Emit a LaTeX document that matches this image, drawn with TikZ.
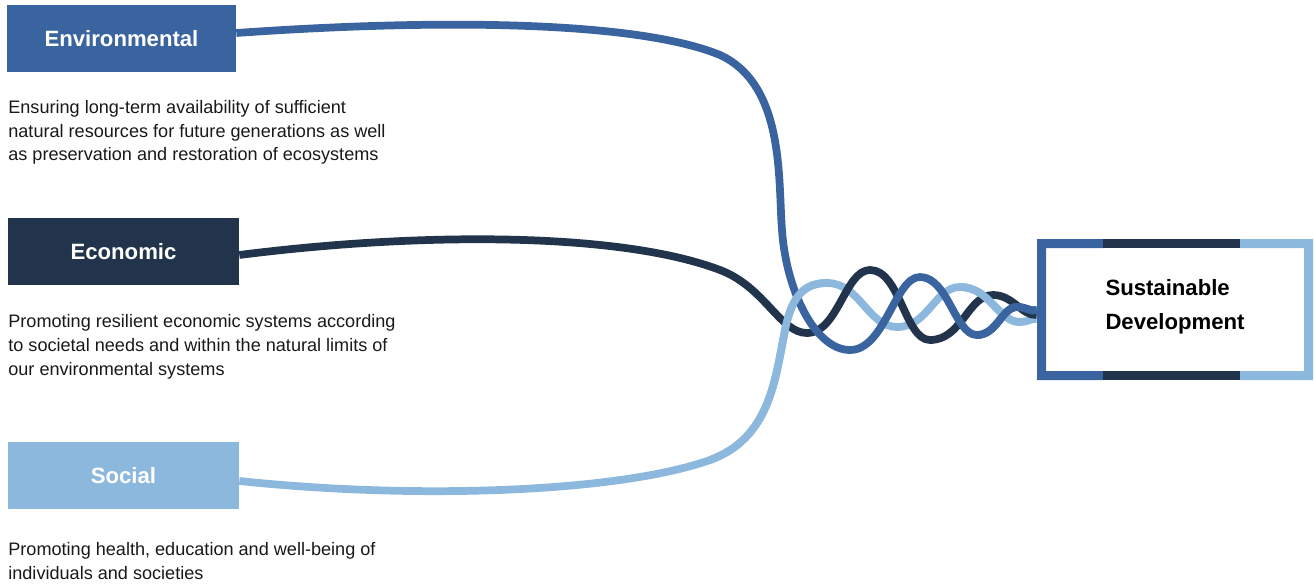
\documentclass[tikz,border=0pt]{standalone}
\usepackage{fontspec}
\setmainfont{Liberation Sans}
\usetikzlibrary{positioning}

\definecolor{envblue}{HTML}{3A64A0}
\definecolor{ecoblue}{HTML}{22344B}
\definecolor{socblue}{HTML}{8DB8DE}

\tikzset{
  pillarbox/.style={rectangle,inner sep=0pt,minimum height=1.34cm,text=white,
    font=\fontsize{12.6}{15}\selectfont\bfseries},
  desctext/.style={anchor=base west,inner sep=0pt,align=left,text=black!90,
    font=\fontsize{10.3}{13.6}\selectfont},
  goalbox/.style={rectangle,inner sep=0pt,minimum width=5.52cm,minimum height=2.82cm,
    align=left,font=\fontsize{12.6}{19.3}\selectfont\bfseries},
  strand/.style={line width=4.4pt},
}

\begin{document}
\begin{tikzpicture}[x=0.02cm,y=-0.02cm]
\useasboundingbox (0,0) rectangle (1314,584);

% pillars
\node[pillarbox,fill=envblue,minimum width=4.58cm] (env) at (121.5,38.5) {Environmental};
\node[pillarbox,fill=ecoblue,minimum width=4.62cm] (eco) at (123.5,251.5) {Economic};
\node[pillarbox,fill=socblue,minimum width=4.62cm] (soc) at (123.5,475.5) {Social};

% descriptions (anchored at the last line)
\node[desctext] (envtxt) at (8,161) {Ensuring long-term availability of sufficient\\
  natural resources for future generations as well\\
  as preservation and restoration of ecosystems};
\node[desctext] (ecotxt) at (8,375) {Promoting resilient economic systems according\\
  to societal needs and within the natural limits of\\
  our environmental systems};
\node[desctext] (soctxt) at (8,579) {Promoting health, education and well-being of\\
  individuals and societies};

% goal
\node[goalbox] (sd) at (1175,307) {Sustainable\\Development};

% turning points of the braid
\coordinate (e1) at (850,350);
\coordinate (e2) at (920,277);
\coordinate (e3) at (977,335);
\coordinate (e4) at (1017,307);
\coordinate (d1) at (807,333);
\coordinate (d2) at (870,270);
\coordinate (d3) at (930,340);
\coordinate (d4) at (993,295);
\coordinate (l1) at (827,283);
\coordinate (l2) at (897,327);
\coordinate (l3) at (960,287);
\coordinate (l4) at (1020,322);

% strands
\draw[strand,socblue] ([yshift=-0.11cm]soc.east) .. controls (420,500) and (620,492) .. (710,460)
  .. controls (770,438) and (775,380) .. (785,330) .. controls (792,295) and (805,283) .. (l1)
  .. controls (860,283) and (868,327) .. (l2) .. controls (928,327) and (935,287) .. (l3)
  .. controls (990,287) and (998,322) .. (l4) .. controls (1028,322) and (1032,318) .. ([yshift=-0.24cm]sd.west);
\draw[strand,ecoblue] ([yshift=-0.07cm]eco.east) .. controls (420,232) and (620,232) .. (720,270)
  .. controls (765,287) and (780,333) .. (d1) .. controls (838,333) and (845,270) .. (d2)
  .. controls (900,270) and (905,340) .. (d3) .. controls (962,340) and (968,295) .. (d4)
  .. controls (1013,295) and (1022,316) .. ([yshift=-0.16cm]sd.west);
\draw[strand,envblue] ([yshift=0.11cm]env.east) .. controls (450,18) and (640,22) .. (720,55)
  .. controls (785,85) and (778,180) .. (782,230) .. controls (786,290) and (815,350) .. (e1)
  .. controls (885,350) and (895,277) .. (e2) .. controls (948,277) and (955,335) .. (e3)
  .. controls (997,335) and (1002,307) .. (e4) .. controls (1027,307) and (1030,312) .. ([yshift=-0.06cm]sd.west);

% over-crossings
\draw[strand,socblue] (710,460) .. controls (770,438) and (775,380) .. (785,330)
  .. controls (792,295) and (805,283) .. (l1);
\draw[strand,socblue] (l3) .. controls (990,287) and (998,322) .. (l4);
\draw[strand,envblue] (e3) .. controls (997,335) and (1002,307) .. (e4)
  .. controls (1027,307) and (1030,312) .. ([yshift=-0.06cm]sd.west);

% frame of the goal
\fill[envblue] (1037,239) -- (1103,239) -- (1103,248) -- (1046,248) -- (1046,371)
  -- (1103,371) -- (1103,380) -- (1037,380) -- cycle;
\fill[ecoblue] (1103,239) rectangle (1240,248);
\fill[ecoblue] (1103,371) rectangle (1240,380);
\fill[socblue] (1240,239) -- (1313,239) -- (1313,380) -- (1240,380) -- (1240,371)
  -- (1304,371) -- (1304,248) -- (1240,248) -- cycle;
\end{tikzpicture}
\end{document}
